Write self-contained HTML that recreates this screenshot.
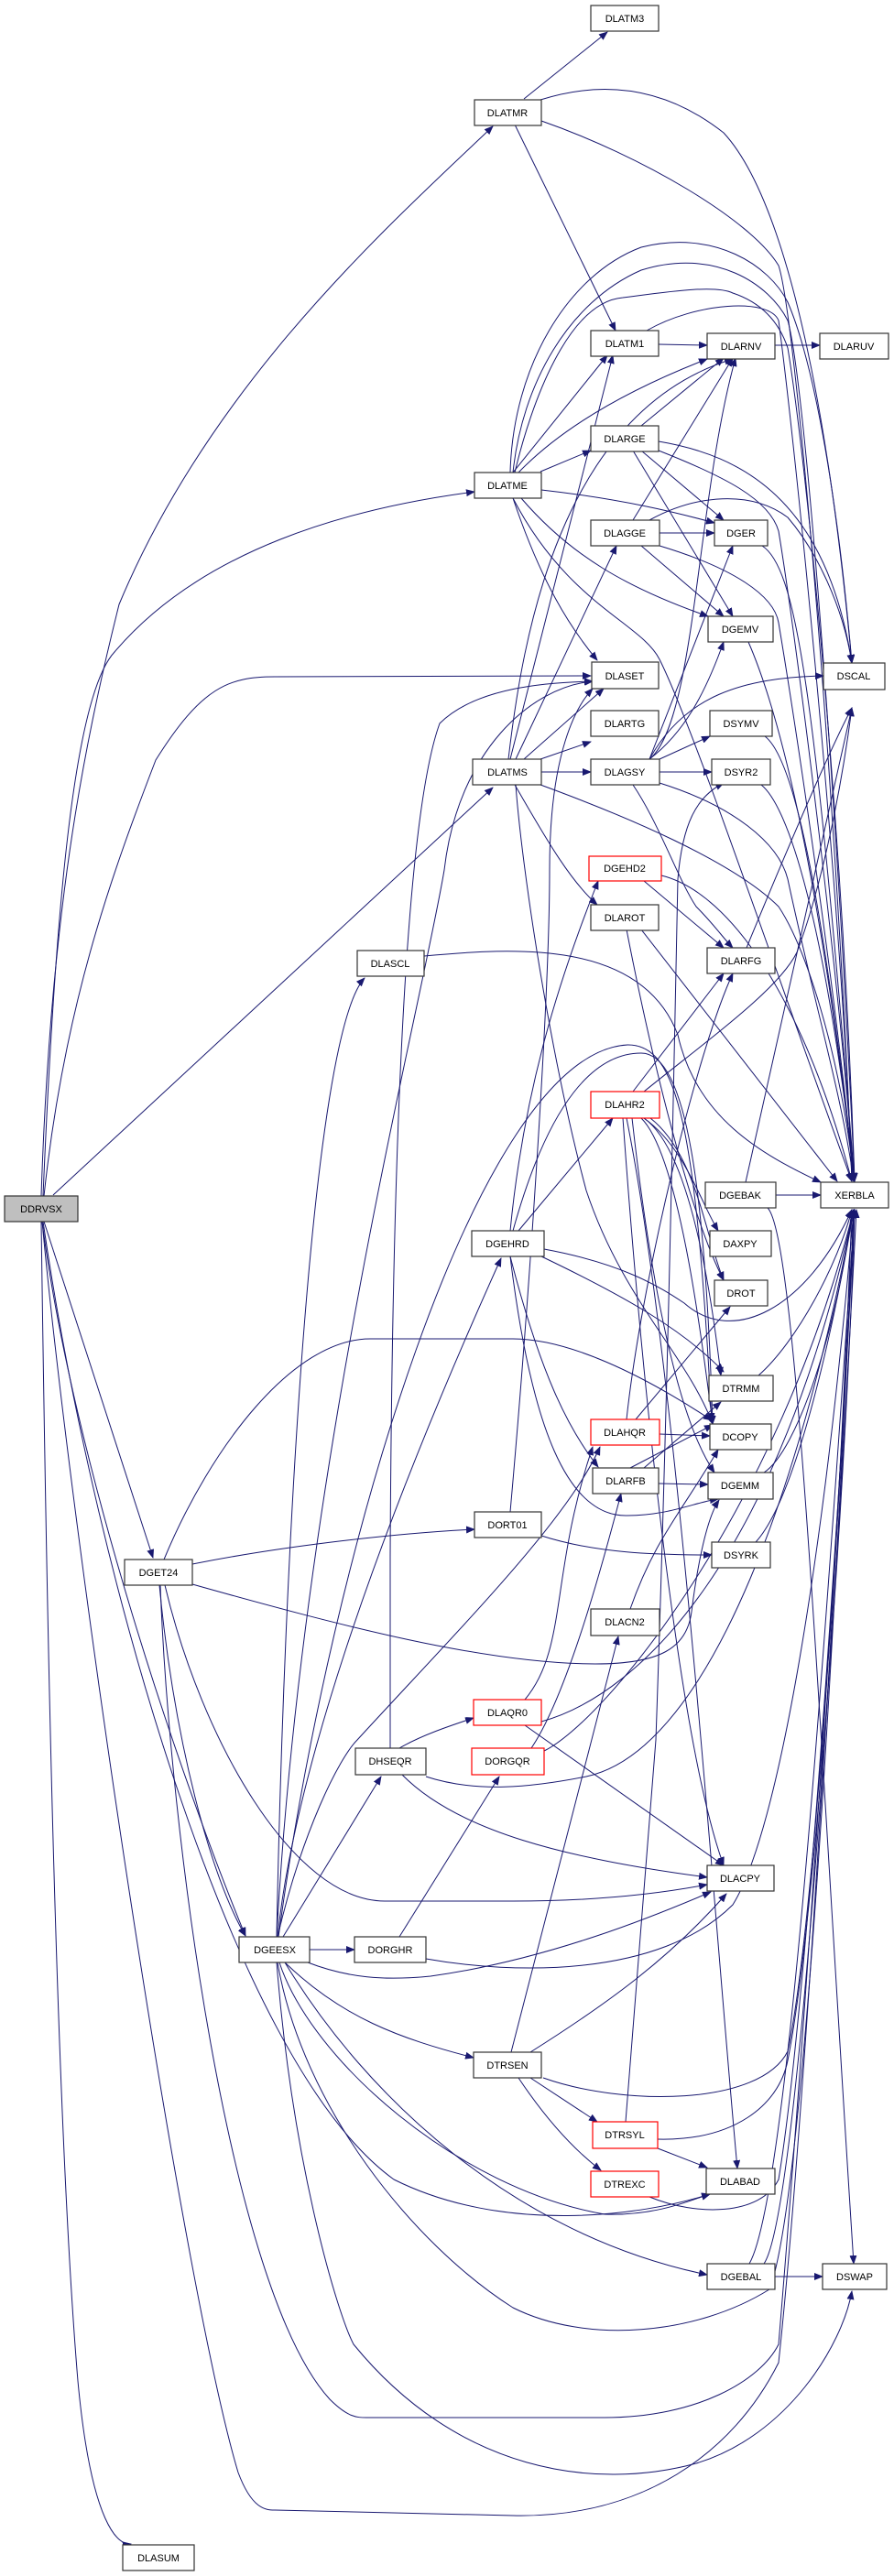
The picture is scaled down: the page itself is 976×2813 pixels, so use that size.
<!DOCTYPE html>
<html><head><meta charset="utf-8"><style>
html,body{margin:0;padding:0;background:#fff;}
svg{display:block;}
text{font-family:"Liberation Sans","DejaVu Sans",sans-serif;font-size:11px;fill:#000;}
</style></head><body>
<svg width="976" height="2813" viewBox="0 0 976 2813" xmlns="http://www.w3.org/2000/svg">
<defs>
<marker id="a" markerWidth="10" markerHeight="8" refX="9" refY="4" orient="auto" markerUnits="userSpaceOnUse">
<path d="M0,0 L10,4 L0,8 z" fill="#191970"/></marker>
</defs>
<g fill="none" stroke="#191970" stroke-width="1" marker-end="url(#a)">
<!-- DDRVSX -->
<path d="M45,1306 C55,1000 90,820 130,660 C230,420 420,250 538,138"/>
<path d="M47,1306 C60,1000 80,760 125,712 C220,600 380,555 518,537"/>
<path d="M48,1306 C70,1100 120,960 170,830 C220,750 250,739 300,739 L645,738"/>
<path d="M58,1305 L538,860"/>
<path d="M48,1334 L167,1701"/>
<path d="M46,1334 C80,1600 200,1950 268,2114"/>
<path d="M45,1334 C50,1700 60,2300 85,2600 C100,2760 130,2780 143,2778"/>
<path d="M46,1334 C80,1700 200,2500 260,2700 C275,2740 290,2741 300,2741 L560,2747 C700,2750 800,2680 850,2580 C880,2300 920,1600 930,1321"/>
<path d="M47,1334 C100,1700 250,2250 430,2380 C550,2440 700,2420 775,2396"/>
<!-- DGET24 -->
<path d="M210,1708 C300,1690 420,1675 518,1670"/>
<path d="M179,1703 C230,1580 320,1462 404,1462 L560,1462 C620,1462 700,1500 777,1551"/>
<path d="M210,1730 C370,1775 530,1817 650,1817 C720,1817 750,1800 755,1760 C760,1720 770,1660 785,1638"/>
<path d="M174,1731 C190,1900 230,2050 268,2114"/>
<path d="M180,1731 C220,1900 320,2076 420,2076 L560,2076 C650,2076 720,2068 772,2058"/>
<path d="M175,1731 C185,2000 250,2500 360,2620 C380,2640 390,2640 400,2640 L660,2640 C760,2640 830,2600 850,2560 C880,2200 920,1600 932,1321"/>
<!-- DGEESX -->
<path d="M338,2129 L387,2129"/>
<path d="M309,2115 L416,1940"/>
<path d="M311,2143 C373,2203 436,2226 517,2247"/>
<path d="M311,2143 C400,2290 560,2440 772,2484"/>
<path d="M305,2143 C340,2250 500,2390 660,2418 C720,2420 760,2400 775,2396"/>
<path d="M303,2143 C330,2300 450,2450 560,2520 C640,2560 760,2550 840,2500 C880,2400 915,1700 932,1321"/>
<path d="M302,2143 C320,2370 370,2530 386,2560 C500,2700 650,2720 760,2690 C860,2660 920,2560 930,2502"/>
<path d="M302,2115 C310,1700 340,1130 398,1068"/>
<path d="M303,2115 C320,1950 400,1700 547,1374"/>
<path d="M302,2115 C330,1600 460,1100 485,950 C500,820 580,750 647,744"/>
<path d="M303,2115 C330,2000 370,1920 390,1900 C500,1780 620,1660 655,1580"/>
<path d="M304,2115 C360,1700 520,1150 685,1141 C740,1140 760,1230 777,1552"/>
<path d="M336,2143 C380,2160 420,2163 470,2158 C600,2140 720,2090 776,2066"/>
<!-- DORGHR / DHSEQR / DLAQR0 / DORGQR -->
<path d="M436,2115 L545,1940"/>
<path d="M465,2139 C560,2156 720,2160 800,2080 C850,2000 900,1700 932,1321"/>
<path d="M436,1909 C460,1895 490,1885 517,1876"/>
<path d="M439,1938 C500,2000 620,2030 772,2050"/>
<path d="M465,1940 C520,1958 580,1952 640,1940 C780,1910 880,1600 932,1321"/>
<path d="M426,1909 L426,1700 C428,1300 440,900 480,790 C520,750 600,745 647,744"/>
<path d="M573,1856 C620,1800 600,1720 647,1580"/>
<path d="M573,1884 L790,2037"/>
<path d="M591,1880 C700,1850 850,1700 932,1321"/>
<path d="M580,1909 C620,1850 660,1700 678,1631"/>
<path d="M594,1912 C660,1880 850,1650 932,1321"/>
<!-- DTRSEN etc -->
<path d="M579,2269 L652,2317"/>
<path d="M566,2269 C600,2320 630,2350 656,2370"/>
<path d="M579,2241 C660,2190 730,2140 793,2068"/>
<path d="M558,2241 L675,1787"/>
<path d="M593,2269 C680,2300 830,2300 860,2240 C890,2100 920,1600 932,1321"/>
<path d="M718,2346 L772,2367"/>
<path d="M718,2336 C800,2338 850,2300 860,2250 C890,2100 925,1600 933,1321"/>
<path d="M683,2317 L716,1900 C730,1500 737,1100 740,960 C745,900 760,870 790,855" />
<path d="M709,2399 C760,2420 830,2420 850,2380 C880,2200 920,1600 933,1321"/>
<path d="M846,2486 L898,2486"/>
<path d="M818,2472 C860,2400 900,1800 933,1321"/>
<path d="M834,2472 C870,2420 910,1800 935,1321"/>
<path d="M684,1221 C740,1500 780,2100 805,2368"/>
<path d="M838,1319 C870,1350 895,1900 932,2472"/>
<!-- DGEHRD -->
<path d="M566,1344 L669,1221"/>
<path d="M557,1344 C572,1190 610,1070 653,962"/>
<path d="M591,1372 C685,1417 747,1453 790,1498"/>
<path d="M594,1364 C680,1380 720,1405 747,1423 C800,1470 880,1430 930,1321"/>
<path d="M557,1372 C590,1500 620,1560 653,1602"/>
<path d="M557,1372 C580,1560 620,1657 685,1655 C730,1655 760,1640 784,1637"/>
<path d="M560,1344 C600,1200 650,1150 700,1150 C750,1150 770,1300 778,1555"/>
<!-- DLAHR2 -->
<path d="M703,1221 C747,1252 765,1313 784,1344"/>
<path d="M703,1221 C747,1252 772,1374 787,1502"/>
<path d="M700,1221 C740,1260 765,1450 778,1555"/>
<path d="M690,1221 C710,1400 740,1550 780,1608"/>
<path d="M691,1192 L790,1063"/>
<path d="M703,1192 C780,1130 850,1080 870,1040 C900,960 920,850 930,773"/>
<path d="M680,1221 C700,1500 740,1900 790,2037"/>
<path d="M710,1221 C760,1260 770,1350 790,1398"/>
<!-- DGEHD2 / DLAROT / DLASCL -->
<path d="M703,962 L790,1035"/>
<path d="M722,956 C800,975 880,1100 930,1290"/>
<path d="M700,1015 L914,1290"/>
<path d="M684,1015 C720,1200 760,1340 790,1398"/>
<path d="M463,1044 C560,1035 700,1025 740,1130 C760,1220 830,1260 896,1291"/>
<path d="M815,1035 C850,950 900,830 930,773"/>
<path d="M684,1550 C700,1400 760,1150 800,1063"/>
<path d="M847,1305 L896,1305"/>
<path d="M814,1291 L930,773"/>
<path d="M828,1502 C870,1465 915,1380 930,1321"/>
<path d="M834,1608 C870,1585 915,1450 930,1321"/>
<path d="M825,1684 C870,1635 910,1450 932,1321"/>
<path d="M720,1566 L775,1568"/>
<path d="M694,1550 L797,1427"/>
<path d="M688,1603 L778,1556"/>
<path d="M719,1620 L773,1621"/>
<path d="M703,1603 L787,1531"/>
<path d="M591,1677 C650,1696 715,1698 777,1698"/>
<path d="M557,1651 C575,1450 600,1100 600,950 C600,820 630,770 647,752"/>
<path d="M688,1757 C715,1680 745,1650 784,1583"/>
<!-- DLATMS -->
<path d="M591,843 L645,843"/>
<path d="M590,829 L645,810"/>
<path d="M572,829 L659,752"/>
<path d="M563,829 L673,596"/>
<path d="M557,829 L669,388"/>
<path d="M562,857 C590,905 620,960 652,988"/>
<path d="M590,857 C680,890 800,940 850,990 C890,1050 925,1200 932,1290"/>
<path d="M563,857 C570,950 600,1150 640,1300 C680,1420 750,1480 778,1555"/>
<path d="M555,829 C570,700 610,450 800,392"/>
<!-- DLATME -->
<path d="M560,516 L663,388"/>
<path d="M566,516 C620,460 700,420 772,392"/>
<path d="M590,515 L645,492"/>
<path d="M591,535 C680,545 740,560 780,571"/>
<path d="M569,544 C622,606 684,642 773,673"/>
<path d="M560,544 C591,636 622,685 652,721"/>
<path d="M557,516 C560,400 620,300 700,270 C780,250 840,290 860,330 C890,400 915,550 930,724"/>
<path d="M560,516 C570,420 620,330 700,295 C780,270 840,310 860,350 C880,420 915,900 933,1290"/>
<path d="M562,516 C580,440 620,330 680,325 C720,320 780,310 800,320 C830,330 850,350 860,380 C880,500 920,900 933,1290"/>
<path d="M560,544 C620,660 700,680 720,720 C760,800 860,1100 930,1290"/>
<!-- DLATMR -->
<path d="M572,108 L663,35"/>
<path d="M590,109 C650,90 720,90 790,145 C850,210 900,400 930,724"/>
<path d="M591,132 C700,170 820,240 850,290 C870,350 915,900 930,1290"/>
<path d="M562,136 L672,361"/>
<path d="M719,376 L772,377"/>
<path d="M846,377 L895,377"/>
<path d="M706,361 C760,330 840,325 850,350 C870,500 920,1000 930,1290"/>
<!-- DLARGE / DLAGGE -->
<path d="M700,465 L790,391"/>
<path d="M700,492 L790,568"/>
<path d="M691,492 L800,673"/>
<path d="M719,482 C809,497 902,545 930,724"/>
<path d="M719,492 C790,520 840,545 850,580 C870,700 920,1100 932,1290"/>
<path d="M720,582 L780,582"/>
<path d="M691,568 L800,391"/>
<path d="M700,596 L790,673"/>
<path d="M709,568 C760,540 820,535 860,565 C890,600 920,660 930,724"/>
<path d="M720,596 C800,620 845,650 850,680 C870,800 915,1100 932,1290"/>
<path d="M832,596 C870,620 890,760 933,1290"/>
<path d="M817,701 C860,800 900,1000 933,1290"/>
<path d="M835,804 C870,830 900,1000 933,1290"/>
<path d="M831,857 C860,880 900,1000 933,1290"/>
<!-- DLAGSY -->
<path d="M720,843 L777,843"/>
<path d="M720,829 L775,804"/>
<path d="M709,829 C747,800 770,757 790,701"/>
<path d="M709,829 L800,596"/>
<path d="M709,829 C760,788 760,545 803,391"/>
<path d="M709,829 C747,760 810,740 899,738"/>
<path d="M720,855 C800,880 850,920 860,960 C890,1100 920,1200 932,1290"/>
<path d="M691,857 C720,900 740,960 760,990 C780,1010 790,1025 800,1035"/>
</g>
<g stroke-width="1.2">
<rect x="5" y="1306" width="80" height="28" fill="#bfbfbf" stroke="#333"/>
<g fill="#fff" stroke="#333">
<rect x="518" y="109" width="73" height="28"/>
<rect x="645" y="6" width="74" height="28"/>
<rect x="645" y="361" width="74" height="28"/>
<rect x="772" y="364" width="74" height="28"/>
<rect x="895" y="364" width="75" height="28"/>
<rect x="645" y="465" width="74" height="28"/>
<rect x="518" y="516" width="73" height="28"/>
<rect x="645" y="568" width="75" height="28"/>
<rect x="780" y="568" width="58" height="28"/>
<rect x="773" y="673" width="71" height="28"/>
<rect x="646" y="723" width="73" height="29"/>
<rect x="899" y="724" width="67" height="29"/>
<rect x="645" y="776" width="74" height="28"/>
<rect x="775" y="776" width="68" height="28"/>
<rect x="516" y="829" width="75" height="28"/>
<rect x="645" y="829" width="75" height="28"/>
<rect x="777" y="829" width="64" height="28"/>
<rect x="645" y="988" width="74" height="28"/>
<rect x="390" y="1038" width="73" height="28"/>
<rect x="772" y="1035" width="74" height="28"/>
<rect x="770" y="1291" width="77" height="28"/>
<rect x="896" y="1291" width="74" height="28"/>
<rect x="775" y="1344" width="67" height="28"/>
<rect x="515" y="1344" width="79" height="28"/>
<rect x="780" y="1398" width="58" height="28"/>
<rect x="774" y="1502" width="70" height="28"/>
<rect x="775" y="1555" width="67" height="28"/>
<rect x="647" y="1603" width="72" height="28"/>
<rect x="773" y="1608" width="71" height="29"/>
<rect x="518" y="1651" width="73" height="28"/>
<rect x="777" y="1684" width="64" height="28"/>
<rect x="136" y="1703" width="74" height="28"/>
<rect x="645" y="1757" width="75" height="29"/>
<rect x="388" y="1909" width="77" height="29"/>
<rect x="772" y="2037" width="73" height="28"/>
<rect x="261" y="2115" width="77" height="28"/>
<rect x="387" y="2115" width="78" height="28"/>
<rect x="517" y="2241" width="74" height="28"/>
<rect x="771" y="2368" width="75" height="28"/>
<rect x="772" y="2472" width="74" height="28"/>
<rect x="898" y="2472" width="70" height="28"/>
<rect x="134" y="2779" width="78" height="28"/>
</g>
<g fill="#fff" stroke="#ff0000">
<rect x="643" y="935" width="79" height="27"/>
<rect x="645" y="1192" width="75" height="29"/>
<rect x="645" y="1550" width="75" height="28"/>
<rect x="517" y="1856" width="74" height="28"/>
<rect x="515" y="1909" width="79" height="29"/>
<rect x="647" y="2317" width="71" height="29"/>
<rect x="645" y="2371" width="74" height="28"/>
</g>
</g>
<g text-anchor="middle">
<text x="45" y="1324">DDRVSX</text>
<text x="554" y="127">DLATMR</text>
<text x="682" y="24">DLATM3</text>
<text x="682" y="379">DLATM1</text>
<text x="809" y="382">DLARNV</text>
<text x="932" y="382">DLARUV</text>
<text x="682" y="483">DLARGE</text>
<text x="554" y="534">DLATME</text>
<text x="682" y="586">DLAGGE</text>
<text x="809" y="586">DGER</text>
<text x="808" y="691">DGEMV</text>
<text x="682" y="742">DLASET</text>
<text x="932" y="742">DSCAL</text>
<text x="682" y="794">DLARTG</text>
<text x="809" y="794">DSYMV</text>
<text x="554" y="847">DLATMS</text>
<text x="682" y="847">DLAGSY</text>
<text x="809" y="847">DSYR2</text>
<text x="682" y="952">DGEHD2</text>
<text x="682" y="1006">DLAROT</text>
<text x="426" y="1056">DLASCL</text>
<text x="809" y="1053">DLARFG</text>
<text x="682" y="1210">DLAHR2</text>
<text x="808" y="1309">DGEBAK</text>
<text x="933" y="1309">XERBLA</text>
<text x="808" y="1362">DAXPY</text>
<text x="554" y="1362">DGEHRD</text>
<text x="809" y="1416">DROT</text>
<text x="809" y="1520">DTRMM</text>
<text x="682" y="1568">DLAHQR</text>
<text x="808" y="1573">DCOPY</text>
<text x="683" y="1621">DLARFB</text>
<text x="808" y="1626">DGEMM</text>
<text x="554" y="1669">DORT01</text>
<text x="809" y="1702">DSYRK</text>
<text x="173" y="1721">DGET24</text>
<text x="682" y="1775">DLACN2</text>
<text x="554" y="1874">DLAQR0</text>
<text x="426" y="1927">DHSEQR</text>
<text x="554" y="1927">DORGQR</text>
<text x="808" y="2055">DLACPY</text>
<text x="300" y="2133">DGEESX</text>
<text x="426" y="2133">DORGHR</text>
<text x="554" y="2259">DTRSEN</text>
<text x="682" y="2335">DTRSYL</text>
<text x="808" y="2386">DLABAD</text>
<text x="682" y="2389">DTREXC</text>
<text x="809" y="2490">DGEBAL</text>
<text x="933" y="2490">DSWAP</text>
<text x="173" y="2797">DLASUM</text>
</g>
</svg>
</body></html>
